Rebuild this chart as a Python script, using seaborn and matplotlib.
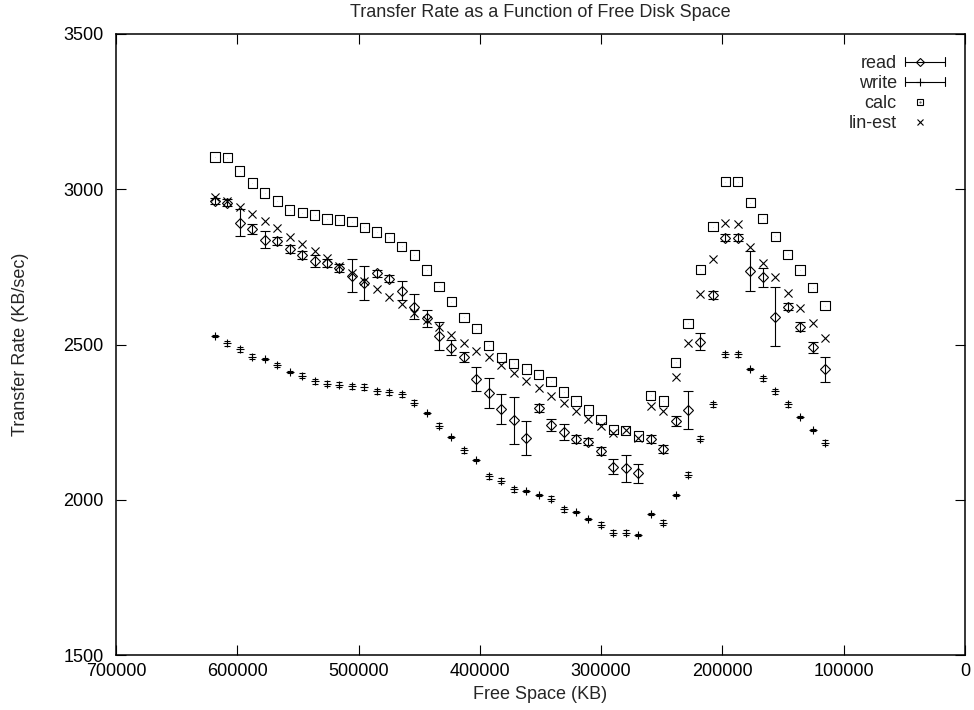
import numpy as np
import pandas as pd
import matplotlib
matplotlib.use("Agg")
import matplotlib.pyplot as plt
import seaborn as sns
from matplotlib.lines import Line2D
from matplotlib.legend_handler import HandlerBase

# values
free_kb = [618400, 608100, 597900, 587600, 577300, 567100, 556800, 546500, 536300, 526000,
           515800, 505500, 495200, 485000, 474700, 464400, 454200, 443900, 433600, 423400,
           413100, 402900, 392600, 382300, 372100, 361800, 351500, 341300, 331000, 320700,
           310500, 300200, 290000, 279700, 269400, 259200, 248900, 238600, 228400, 218100,
           207800, 197600, 187300, 177100, 166800, 156500, 146300, 136000, 125700, 115500]

read = [2963, 2957, 2892, 2871, 2837, 2833, 2807, 2788, 2770, 2763,
        2747, 2721, 2697, 2729, 2712, 2673, 2622, 2584, 2527, 2489,
        2460, 2388, 2344, 2291, 2256, 2200, 2295, 2241, 2217, 2196,
        2187, 2157, 2106, 2101, 2085, 2196, 2163, 2254, 2289, 2509,
        2659, 2844, 2844, 2737, 2716, 2590, 2622, 2557, 2491, 2420]
read_err = [10, 10, 43, 16, 27, 12, 12, 12, 19, 12,
            12, 53, 55, 12, 12, 30, 40, 28, 44, 24,
            15, 38, 48, 48, 76, 55, 12, 18, 26, 12,
            12, 12, 24, 43, 31, 12, 12, 16, 60, 27,
            12, 12, 12, 64, 30, 94, 12, 15, 18, 41]

write = [2527, 2504, 2484, 2461, 2452, 2434, 2411, 2400, 2382, 2373,
         2370, 2366, 2364, 2350, 2346, 2339, 2312, 2278, 2238, 2202,
         2160, 2127, 2076, 2061, 2034, 2029, 2015, 2003, 1969, 1960,
         1938, 1919, 1894, 1894, 1887, 1953, 1926, 2015, 2080, 2197,
         2308, 2469, 2469, 2420, 2391, 2350, 2307, 2267, 2225, 2184]
write_err = [3, 8, 8, 8, 3, 7, 3, 8, 8, 8,
             8, 8, 10, 8, 8, 8, 8, 3, 8, 3,
             8, 3, 8, 8, 8, 3, 3, 8, 8, 3,
             3, 8, 8, 8, 3, 3, 8, 3, 8, 8,
             8, 8, 8, 3, 8, 8, 8, 3, 3, 8]

calc = [3104, 3101, 3059, 3020, 2988, 2962, 2933, 2924, 2917, 2904,
        2901, 2895, 2878, 2862, 2845, 2816, 2788, 2740, 2688, 2638,
        2588, 2551, 2498, 2458, 2439, 2421, 2404, 2382, 2347, 2318,
        2289, 2259, 2227, 2224, 2205, 2337, 2318, 2443, 2568, 2742,
        2879, 3024, 3024, 2957, 2906, 2849, 2791, 2740, 2683, 2625]

lin_est = [2974, 2962, 2944, 2920, 2898, 2874, 2847, 2824, 2801, 2778,
           2753, 2729, 2705, 2679, 2653, 2630, 2600, 2579, 2557, 2531,
           2506, 2480, 2459, 2434, 2407, 2383, 2359, 2335, 2312, 2286,
           2261, 2237, 2214, 2224, 2198, 2302, 2286, 2394, 2506, 2662,
           2775, 2892, 2887, 2813, 2763, 2716, 2667, 2617, 2568, 2520]

x_ticks = [700000, 600000, 500000, 400000, 300000, 200000, 100000, 0]
y_ticks = [1500, 2000, 2500, 3000, 3500]
labels = ["read", "write", "calc", "lin-est"]

df = pd.DataFrame({"free_kb": free_kb, "read": read, "read_err": read_err,
                   "write": write, "write_err": write_err,
                   "calc": calc, "lin_est": lin_est})

sns.set_style("ticks")
plt.rcParams['font.family'] = ['Liberation Sans', 'DejaVu Sans']
plt.rcParams['font.size'] = 13

fig = plt.figure(figsize=(9.74, 7.10), dpi=100)
ax = fig.add_axes([116 / 974, 55 / 710, 849 / 974, 621 / 710])

lw = 0.8
ax.errorbar(df["free_kb"], df["read"], yerr=df["read_err"], fmt="D", ms=5.0,
            mfc="none", mec="black", mew=lw, ecolor="black", elinewidth=lw,
            capsize=3.3, capthick=lw)
ax.errorbar(df["free_kb"], df["write"], yerr=df["write_err"], fmt="+", ms=6,
            mec="black", mew=lw, ecolor="black", elinewidth=lw,
            capsize=2.5, capthick=lw)
sns.scatterplot(data=df, x="free_kb", y="calc", marker="s", s=44,
                facecolor="none", edgecolor="black", linewidth=lw, ax=ax)
sns.scatterplot(data=df, x="free_kb", y="calc", marker=".", s=2,
                color="0.35", linewidth=0, ax=ax)
sns.scatterplot(data=df, x="free_kb", y="lin_est", marker="x", s=34,
                color="black", linewidth=lw, ax=ax)

ax.set_xlim(700000, 0)
ax.set_ylim(1500, 3500)
ax.set_xticks(x_ticks, [str(v) for v in x_ticks])
ax.set_yticks(y_ticks, [str(v) for v in y_ticks])
ax.tick_params(direction="in", top=True, right=True, length=7, width=lw,
               labelsize=13, colors="black")
ax.tick_params(axis="x", pad=6)
ax.tick_params(axis="y", pad=9)
for sp in ax.spines.values():
    sp.set_linewidth(1.1)
    sp.set_color("black")

ax.set_title("Transfer Rate as a Function of Free Disk Space", fontsize=13, pad=12)
ax.set_xlabel("Free Space (KB)", fontsize=13)
ax.set_ylabel("Transfer Rate (KB/sec)", fontsize=13)
ax.xaxis.set_label_coords(0.5, -0.05)
ax.yaxis.set_label_coords(-0.103, 0.5)


class GnuSample(HandlerBase):
    def __init__(self, marker, ms, bar=False, dot=False):
        super().__init__()
        self.marker = marker
        self.ms = ms
        self.bar = bar
        self.dot = dot

    def create_artists(self, legend, orig_handle, xdescent, ydescent,
                       width, height, fontsize, trans):
        y = height / 2 - ydescent
        x0 = -xdescent
        x1 = width - xdescent
        xm = x0 + 0.37 * (x1 - x0)
        arts = []
        if self.bar:
            c = 3.3
            arts.append(Line2D([x0, x1], [y, y], color="black", lw=lw))
            arts.append(Line2D([x0, x0], [y - c, y + c], color="black", lw=lw))
            arts.append(Line2D([x1, x1], [y - c, y + c], color="black", lw=lw))
        arts.append(Line2D([xm], [y], marker=self.marker, ms=self.ms, color="black",
                           mfc="none", mec="black", mew=lw, ls="none"))
        if self.dot:
            arts.append(Line2D([xm], [y], marker=".", ms=1.2, color="0.35", ls="none"))
        for a in arts:
            a.set_transform(trans)
        return arts


proxies = [Line2D([], []) for _ in labels]
handlers = [GnuSample("D", 3.8, bar=True), GnuSample("+", 5.5, bar=True),
            GnuSample("s", 5.0, dot=True), GnuSample("x", 4.5)]
ax.legend(proxies, labels, handler_map=dict(zip(proxies, handlers)),
          loc="upper right", bbox_to_anchor=(0.976, 0.966), frameon=False,
          markerfirst=False, alignment="right", borderpad=0, borderaxespad=0,
          handlelength=2.2, handletextpad=0.45, labelspacing=0.17, fontsize=13)

fig.savefig("out.png", dpi=100)
